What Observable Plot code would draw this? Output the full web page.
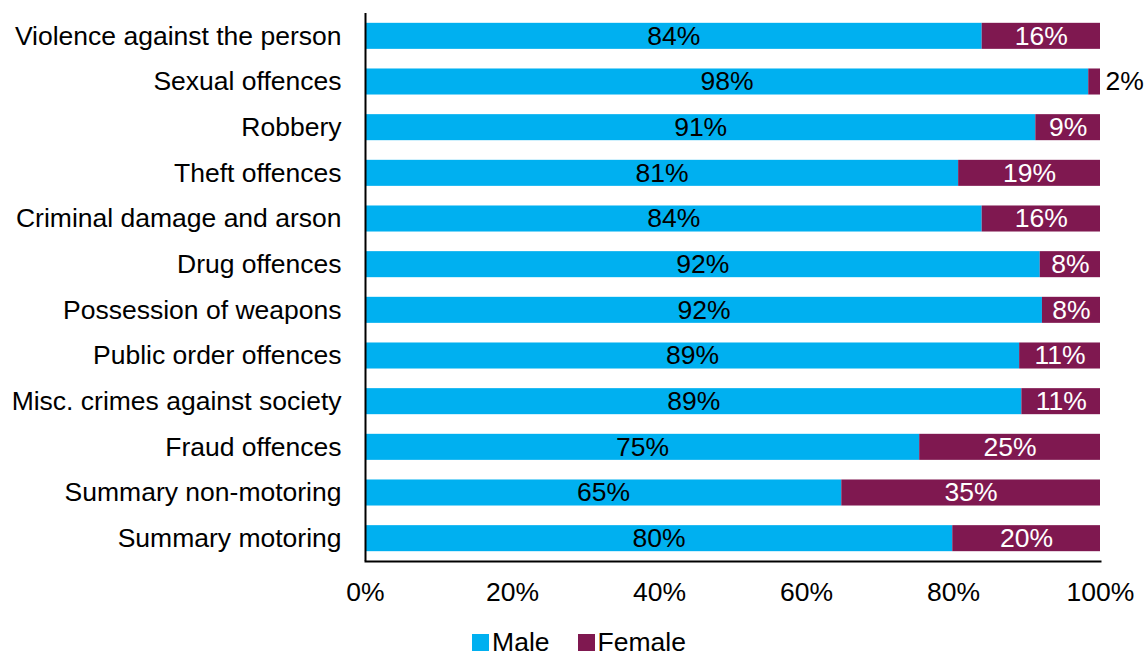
<!DOCTYPE html>
<html><head><meta charset="utf-8">
<script src="https://cdn.jsdelivr.net/npm/d3@7"></script>
<script src="https://cdn.jsdelivr.net/npm/@observablehq/plot@0.6"></script>
<style>
body{margin:0;background:#fff;overflow:hidden;font-family:"Liberation Sans",Arial,sans-serif;}
#legend{display:flex;justify-content:center;align-items:center;height:28px;font-size:26.5px;line-height:28px;color:#000;padding-left:13px;}
#legend .item{display:flex;align-items:center;margin:0 14px;}
#legend .sw{width:17px;height:17px;margin-right:3px;display:inline-block;}
</style></head><body><div id="chart"></div><div id="legend"></div>
<script>
const categories = ["Violence against the person","Sexual offences","Robbery","Theft offences","Criminal damage and arson","Drug offences","Possession of weapons","Public order offences","Misc. crimes against society","Fraud offences","Summary non-motoring","Summary motoring"];
const maleValues = [83.9, 98.4, 91.2, 80.7, 83.9, 91.8, 92.1, 89.0, 89.3, 75.4, 64.8, 79.9];
const femaleValues = [16.1, 1.6, 8.8, 19.3, 16.1, 8.2, 7.9, 11.0, 10.7, 24.6, 35.2, 20.1];
const series = ["Male","Female"];
const colors = ["#00B0F0","#7F1850"];
const xTicks = [0,20,40,60,80,100];

const rows = [];
categories.forEach((c,i)=>{
  rows.push({cat:c, sex:"Male", value:maleValues[i]});
  rows.push({cat:c, sex:"Female", value:femaleValues[i]});
});
const fmt = v => Math.round(v) + "%";

const chart = Plot.plot({
  width:1145, height:628,
  marginTop:13, marginBottom:67, marginLeft:365, marginRight:45,
  style:{fontFamily:'"Liberation Sans",Arial,sans-serif', fontSize:"26.5px", color:"#000", background:"#fff"},
  x:{domain:[0,100], ticks:xTicks, tickFormat:d=>d+"%", tickSize:0, tickPadding:21, label:null},
  y:{domain:categories, paddingInner:0.43, paddingOuter:0.215, round:false, tickSize:0, tickPadding:24, label:null},
  color:{domain:series, range:colors},
  marks:[
    Plot.barX(rows, Plot.stackX({x:"value", y:"cat", fill:"sex", order:series})),
    Plot.text(rows.filter(d=>d.sex==="Male" || d.value>=5), Plot.stackX({x:"value", y:"cat", z:"sex", order:series, text:d=>fmt(d.value), fill:d=>d.sex==="Male"?"#000":"#fff", fontSize:26.5})),
    Plot.text(rows.filter(d=>d.sex==="Female" && d.value<5), {x:100, y:"cat", text:d=>fmt(d.value), textAnchor:"start", dx:5, fill:"#000", fontSize:26.5}),
    Plot.ruleX([0], {stroke:"#000", strokeWidth:2}),
    Plot.frame({anchor:"bottom", stroke:"#000", strokeWidth:2})
  ]
});
document.getElementById("chart").appendChild(chart);

const legend = document.getElementById("legend");
series.forEach((s,i)=>{
  const it = document.createElement("span"); it.className="item";
  const sw = document.createElement("span"); sw.className="sw"; sw.style.background=colors[i];
  const t = document.createElement("span"); t.textContent=s;
  it.appendChild(sw); it.appendChild(t); legend.appendChild(it);
});
</script></body></html>
